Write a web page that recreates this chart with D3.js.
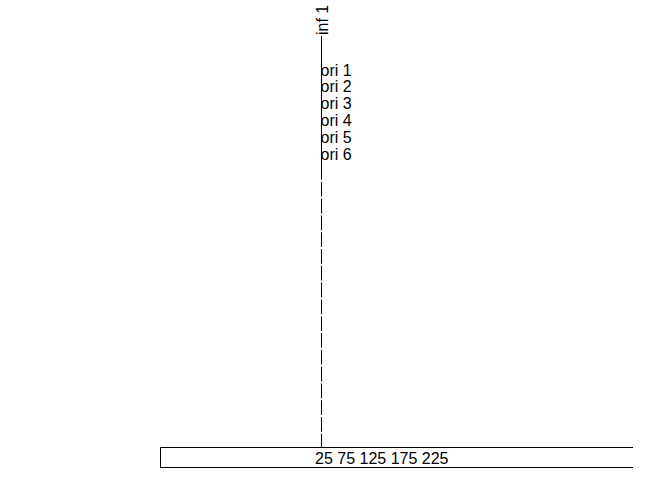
<!DOCTYPE html>
<html>
<head>
<meta charset="utf-8">
<script src="https://cdn.jsdelivr.net/npm/d3@7"></script>
<style>
  html, body { margin: 0; padding: 0; background: #fff; }
  svg { display: block; }
  text { font-family: "Liberation Sans", Arial, sans-serif; font-size: 16px; fill: #000; }
</style>
</head>
<body>
<svg id="chart" width="672" height="480"></svg>
<script>
// ---- data ----
const infLabels = ["inf 1"];
const oriLabels = ["ori 1", "ori 2", "ori 3", "ori 4", "ori 5", "ori 6"];
const tickLabels = [25, 75, 125, 175, 225];

// ---- layout ----
const W = 672, H = 480;
const svg = d3.select("#chart");

// horizontal scale: one lane for the single "inf" column
const x = d3.scalePoint().domain(infLabels).range([321, 321]);
const xAxisBox = d3.scaleLinear().domain([0, 1]).range([160.5, 633]);

// vertical scale for ori rows (index-based)
const yRow = d3.scaleLinear().domain([0, oriLabels.length - 1]).range([75.5, 159.5]);
const yLine = d3.scaleLinear().domain([0, 1]).range([36, 447]);
const solidEnd = 165;

// vertical line: solid part
svg.append("line")
  .attr("x1", x(infLabels[0]) + 0.5).attr("x2", x(infLabels[0]) + 0.5)
  .attr("y1", yLine(0)).attr("y2", solidEnd)
  .attr("stroke", "#000").attr("stroke-width", 1);

// vertical line: dashed part
svg.append("line")
  .attr("x1", x(infLabels[0]) + 0.5).attr("x2", x(infLabels[0]) + 0.5)
  .attr("y1", solidEnd).attr("y2", yLine(1))
  .attr("stroke", "#000").attr("stroke-width", 1)
  .attr("stroke-dasharray", "14.8,2");

// inf label (rotated)
svg.selectAll("text.inf").data(infLabels).enter().append("text")
  .attr("class", "inf")
  .attr("transform", d => `translate(${x(d) + 6.5},${yLine(0) - 1}) rotate(-90)`)
  .attr("text-anchor", "start")
  .text(d => d);

// ori labels
svg.selectAll("text.ori").data(oriLabels).enter().append("text")
  .attr("class", "ori")
  .attr("x", x(infLabels[0]) - 0.5)
  .attr("y", (d, i) => yRow(i))
  .text(d => d);

// bottom box (open on the right, clipped)
const by0 = 447.5, by1 = 467.5;
svg.append("path")
  .attr("d", `M${xAxisBox(1)},${by0} H${xAxisBox(0)} V${by1} H${xAxisBox(1)}`)
  .attr("fill", "none").attr("stroke", "#000").attr("stroke-width", 1);

// tick label text
svg.append("text")
  .attr("x", 315)
  .attr("y", 464)
  .text(tickLabels.join(" "));
</script>
</body>
</html>
